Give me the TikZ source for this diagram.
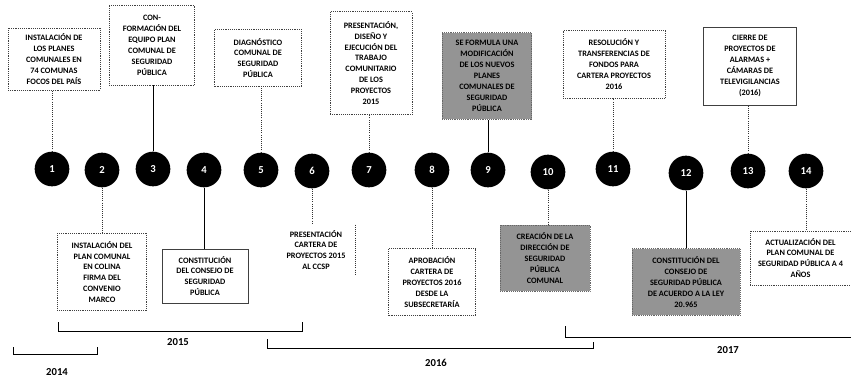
\documentclass[tikz,border=0pt]{standalone}
\usepackage{fontspec}
\setmainfont{Carlito}
\usetikzlibrary{calc, positioning}

\tikzset{
  evnum/.style={circle, fill=black, text=white, minimum size=26pt, inner sep=0pt,
    font=\fontsize{8}{9}\selectfont\bfseries},
  evbox/.style={draw=black!75, densely dotted, align=center, inner sep=1pt,
    font=\fontsize{6.2}{8.2}\selectfont\bfseries},
  evsolid/.style={evbox, solid},
  evshade/.style={evbox, fill=black!42, draw=black!60},
  link/.style={black!80, densely dotted, line width=0.6pt},
  linksolid/.style={black, line width=0.7pt},
  bracket/.style={black, line width=0.6pt},
  yearlabel/.style={font=\fontsize{8}{9}\selectfont\bfseries}
}

\begin{document}
\begin{tikzpicture}[x=0.75pt,y=-0.75pt]
\useasboundingbox (0,0) rectangle (851,379);

% the numbered events along the line
\foreach \n/\x/\y in {1/52/169, 2/102/170, 3/153/169, 4/204/170, 5/261/170,
  6/312/171, 7/369/170, 8/432/170, 9/488/170, 10/548/172, 11/613/169,
  12/686/173, 13/748/171, 14/806/171}
  \node[evnum] (c\n) at (\x,\y) {\n};

% boxes above the line
\node[evbox, minimum width=69pt, minimum height=46.5pt] (b1) at (54,59)
  {INSTALACIÓN DE\\LOS PLANES\\COMUNALES EN\\74 COMUNAS\\FOCOS DEL PAÍS};
\node[evbox, minimum width=64pt, minimum height=60pt] (b3) at (152,45)
  {CON-\\FORMACIÓN DEL\\EQUIPO PLAN\\COMUNAL DE\\SEGURIDAD\\PÚBLICA};
\node[evbox, minimum width=65pt, minimum height=43pt] (b5) at (258,58)
  {DIAGNÓSTICO\\COMUNAL DE\\SEGURIDAD\\PÚBLICA};
\node[evbox, minimum width=61.5pt, minimum height=77pt] (b7) at (371,63)
  {PRESENTACIÓN,\\DISEÑO Y\\EJECUCIÓN DEL\\TRABAJO\\COMUNITARIO\\DE LOS\\PROYECTOS\\2015};
\node[evshade, minimum width=67pt, minimum height=65pt] (b9) at (487,76)
  {SE FORMULA UNA\\MODIFICACIÓN\\DE LOS NUEVOS\\PLANES\\COMUNALES DE\\SEGURIDAD\\PÚBLICA};
\node[evbox, minimum width=76.5pt, minimum height=51pt] (b11) at (614,64)
  {RESOLUCIÓN Y\\TRANSFERENCIAS DE\\FONDOS PARA\\CARTERA PROYECTOS\\2016};
\node[evsolid, minimum width=70pt, minimum height=58.5pt] (b13) at (750,66)
  {CIERRE DE\\PROYECTOS DE\\ALARMAS +\\CÁMARAS DE\\TELEVIGILANCIAS\\(2016)};

% boxes below the line
\node[evbox, minimum width=67pt, minimum height=58pt] (b2) at (102,272)
  {INSTALACIÓN DEL\\PLAN COMUNAL\\EN COLINA\\FIRMA DEL\\CONVENIO\\MARCO};
\node[evsolid, minimum width=64.5pt, minimum height=40.5pt] (b4) at (205,276)
  {CONSTITUCIÓN\\DEL CONSEJO DE\\SEGURIDAD\\PÚBLICA};
\node[evbox, draw=none, minimum width=58.5pt, minimum height=37.5pt] (b6) at (316,250)
  {PRESENTACIÓN\\CARTERA DE\\PROYECTOS 2015\\AL CCSP};
\draw[link] (b6.north east) -- (b6.south east);
\node[evbox, minimum width=65pt, minimum height=50pt] (b8) at (432,282)
  {APROBACIÓN\\CARTERA DE\\PROYECTOS 2016\\DESDE LA\\SUBSECRETARÍA};
\node[evshade, minimum width=67.5pt, minimum height=49.5pt] (b10) at (545,258)
  {CREACIÓN DE LA\\DIRECCIÓN DE\\SEGURIDAD\\PÚBLICA\\COMUNAL};
\node[evshade, minimum width=81pt, minimum height=50pt] (b12) at (686,282)
  {CONSTITUCIÓN DEL\\CONSEJO DE\\SEGURIDAD PÚBLICA\\DE ACUERDO A LA LEY\\20.965};
\node[evbox, minimum width=75.5pt, minimum height=40.5pt] (b14) at (800.5,258)
  {ACTUALIZACIÓN DEL\\PLAN COMUNAL DE\\SEGURIDAD PÚBLICA A 4\\AÑOS};

% connectors between boxes and circles
\foreach \n in {1,5,7,11,13}
  \draw[link] (c\n) -- (c\n |- b\n.south);
\foreach \n in {2,6,8,10,14}
  \draw[link] (c\n) -- (c\n |- b\n.north);
\draw[linksolid] (c3) -- (c3 |- b3.south);
\draw[linksolid] (c9) -- (c9 |- b9.south);
\draw[linksolid] (c4) -- (c4 |- b4.north);
\draw[linksolid] (c12) -- (c12 |- b12.north);

% year brackets
\draw[bracket] (13,347) |- (97,354) -- (97,347);
\node[yearlabel] (y2014) at (57,372) {2014};
\draw[bracket] (58,322) |- (302,331) -- (302,322);
\node[yearlabel] (y2015) at (178,342) {2015};
\draw[bracket] (267,339) |- (593,348) -- (593,342);
\node[yearlabel] (y2016) at (436,363) {2016};
\draw[bracket] (565,326) |- (851,337);
\node[yearlabel] (y2017) at (728,350) {2017};
\end{tikzpicture}
\end{document}
